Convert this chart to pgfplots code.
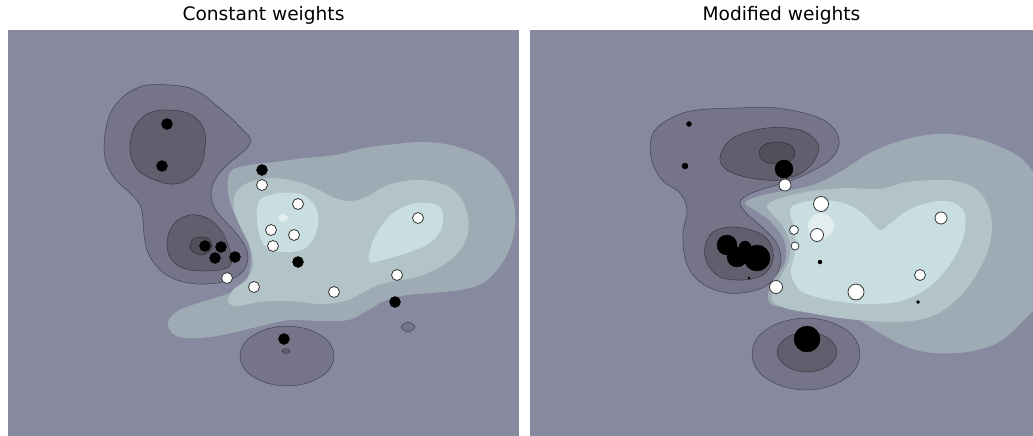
\documentclass[border=0pt]{standalone}
\usepackage{pgfplots}
\pgfplotsset{compat=1.18}
\usepackage{fontspec}
\setmainfont{DejaVu Sans}
\definecolor{bgc}{RGB}{135,138,159}
\definecolor{dA}{RGB}{117,116,136}
\definecolor{dB}{RGB}{96,95,110}
\definecolor{dC}{RGB}{80,80,92}
\definecolor{lA}{RGB}{158,170,180}
\definecolor{lB}{RGB}{178,196,200}
\definecolor{lC}{RGB}{200,222,224}
\definecolor{lD}{RGB}{226,237,238}
\pgfplotsset{
  panel/.style={scale only axis, height=406pt, ymin=30, ymax=436, y dir=reverse,
    axis background/.style={fill=bgc}, axis line style={draw=none}, ticks=none,
    anchor=north west, clip=true,
    title style={at={(0.5,1)}, anchor=base, yshift=4pt, font=\fontsize{18.6}{22}\selectfont}},
  dk/.style={fill=#1, draw=black, draw opacity=0.45, line width=0.5pt, smooth cycle, tension=0.6},
  lt/.style={fill=#1, draw=none, smooth cycle, tension=0.6},
  blk/.style={scatter, only marks, mark=*, scatter/use mapped color={draw=black,fill=black},
    visualization depends on={\thisrow{r}\as\rr},
    scatter/@pre marker code/.append style={/tikz/mark size=\rr}},
  wht/.style={scatter, only marks, mark=*, line width=0.8pt, scatter/use mapped color={draw=black!80,fill=white},
    visualization depends on={\thisrow{r}\as\rr},
    scatter/@pre marker code/.append style={/tikz/mark size=\rr}},
}
\begin{document}
\begin{tikzpicture}[x=1pt,y=1pt]
\useasboundingbox (0,0) rectangle (1033,-436);
% ---------- left panel ----------
\begin{axis}[panel, width=511pt, xmin=8, xmax=519, at={(8pt,-30pt)}, title={Constant weights}]
\addplot[dk=dA] coordinates {(147,85) (170,85) (190,88) (205,96) (217,106) (230,117) (240,127) (250,138) (248,147) (238,156) (226,166) (216,178) (211,192) (214,207) (224,220) (236,233) (245,246) (248,258) (244,270) (234,278) (218,283) (198,284) (180,281) (165,274) (154,263) (147,250) (144,235) (143,220) (140,205) (130,193) (116,180) (107,165) (104,148) (106,128) (112,110) (124,96) (135,89)};
\addplot[dk=dB] coordinates {(167,110) (185,112) (198,120) (205,133) (205,148) (202,163) (195,174) (183,182) (170,184) (155,180) (140,172) (132,160) (130,145) (134,128) (144,116) (155,111)};
\addplot[dk=dB] coordinates {(190,215) (202,216) (213,222) (222,232) (228,245) (232,258) (230,266) (220,270) (205,271) (190,270) (177,265) (169,255) (167,243) (170,230) (178,220)};
\addplot[dk=dC] coordinates {(190,246) (193,239) (201,237) (209,239) (212,246) (209,252) (201,255) (193,252)};
\addplot[dk=dA] coordinates {(334,356) (328,341) (310,330) (287,326) (264,330) (246,341) (240,356) (246,371) (264,382) (287,386) (310,382) (328,371)};
\addplot[dk=dB] coordinates {(290,351) (286,348.5) (282,351) (286,353.5)};
\addplot[dk=dA] coordinates {(415,327) (408,322) (401,327) (408,332)};
\addplot[lt=lA] coordinates {(232,170) (250,165) (275,162) (305,158) (335,155) (365,148) (395,144) (420,142) (445,144) (470,151) (490,162) (505,180) (513,200) (515,222) (511,245) (500,266) (483,283) (460,290) (430,293) (400,296) (382,302) (365,312) (348,320) (320,321) (290,320) (265,325) (240,331) (210,337) (185,338) (172,333) (168,322) (176,312) (192,305) (212,299) (232,292) (244,284) (250,270) (251,255) (247,238) (240,222) (232,208) (228,192) (228,180)};
\addplot[lt=lB] coordinates {(236,192) (250,182) (270,178) (295,181) (315,188) (335,198) (352,201) (368,196) (388,185) (415,180) (440,183) (457,193) (467,212) (468,233) (458,253) (440,267) (417,277) (395,281) (378,285) (362,293) (345,301) (320,304) (290,301) (260,302) (238,306) (228,302) (233,290) (246,280) (253,266) (250,247) (241,228) (234,210)};
\addplot[lt=lC] coordinates {(260,200) (280,193) (303,195) (317,210) (317,230) (307,247) (290,252) (270,250) (260,237) (257,217)};
\addplot[lt=lC] coordinates {(377,233) (393,213) (417,203) (440,207) (442,227) (430,243) (407,253) (383,260) (370,262) (370,250)};
\addplot[lt=lD] coordinates {(288,218) (283,214) (278,218) (283,222)};
\addplot[blk] table {
x y r
167 124 5.5
162 166 5.5
262 170 5.5
205 246 5.5
221 247 5.5
215 258 5.5
235 257 5.5
298 262 5.5
395 302 5.5
284 339 5.5
};
\addplot[wht] table {
x y r
262 185 5.5
298 204 5.5
418 218 5.5
271 230 5.5
294 235 5.5
273 246 5.5
227 278 5.5
254 287 5.5
334 292 5.5
397 275 5.5
};
\end{axis}
% ---------- right panel ----------
\begin{axis}[panel, width=503pt, xmin=530, xmax=1033, at={(530pt,-30pt)}, title={Modified weights}]
\addplot[dk=dA] coordinates {(653,133) (673,117) (697,110) (737,108) (777,108) (817,117) (835,130) (839,145) (830,160) (812,171) (795,179) (777,185) (760,190) (746,196) (740,203) (747,214) (762,227) (776,242) (781,258) (777,274) (766,286) (748,292) (728,293) (708,287) (693,275) (685,258) (683,233) (687,210) (680,193) (662,180) (651,158)};
\addplot[dk=dB] coordinates {(720,157) (733,138) (767,128) (800,130) (817,142) (817,156) (803,172) (780,180) (750,178) (727,170)};
\addplot[dk=dC] coordinates {(795,153) (790,145) (777,142) (764,145) (759,153) (764,161) (777,164) (790,161)};
\addplot[dk=dB] coordinates {(705,247) (713,232) (733,227) (757,232) (770,243) (773,260) (763,275) (743,280) (720,277) (707,263)};
\addplot[dk=dA] coordinates {(860,354) (853,336) (833,323) (806,318) (779,323) (759,336) (752,354) (759,372) (779,385) (806,390) (833,385) (853,372)};
\addplot[dk=dB] coordinates {(837,352) (828,338) (807,332) (786,338) (777,352) (786,366) (807,372) (828,366)};
\addplot[lt=lA] coordinates {(745,203) (756,197) (772,193) (790,190) (813,185) (840,172) (870,153) (903,140) (937,134) (970,137) (1003,148) (1028,165) (1045,200) (1050,250) (1043,295) (1022,322) (997,343) (967,352) (933,353) (907,347) (880,333) (855,318) (830,310) (800,307) (775,306) (768,298) (772,282) (785,262) (784,240) (771,222) (756,211)};
\addplot[lt=lB] coordinates {(767,207) (778,199) (800,193) (820,190) (850,188) (880,189) (907,182) (947,180) (973,187) (987,203) (992,227) (987,253) (973,280) (953,303) (930,317) (900,322) (870,321) (840,318) (810,313) (785,308) (772,300) (776,285) (788,262) (790,243) (782,225)};
\addplot[lt=lC] coordinates {(790,210) (800,203) (820,200) (840,202) (855,208) (868,218) (880,230) (892,222) (905,212) (923,204) (947,201) (963,210) (965,230) (957,253) (940,277) (920,293) (897,302) (870,304) (850,303) (820,298) (800,290) (791,273) (795,253) (795,232)};
\addplot[lt=lD] coordinates {(834,226) (830,217) (821,213) (812,217) (808,226) (812,235) (821,239) (830,235)};
\addplot[blk] table {
x y r
689 124 2.5
685 166 3
784 169 9
727 245 10
737 257 10
745 247 6
757 258 13
749 278 1
820 262 2
918 302 1.5
807 339 13
};
\addplot[wht] table {
x y r
785 185 6
821 204 7.5
941 218 6
794 230 4.5
817 235 6.5
795 246 4
776 287 6.5
856 292 8
920 275 5.5
};
\end{axis}
\end{tikzpicture}
\end{document}
